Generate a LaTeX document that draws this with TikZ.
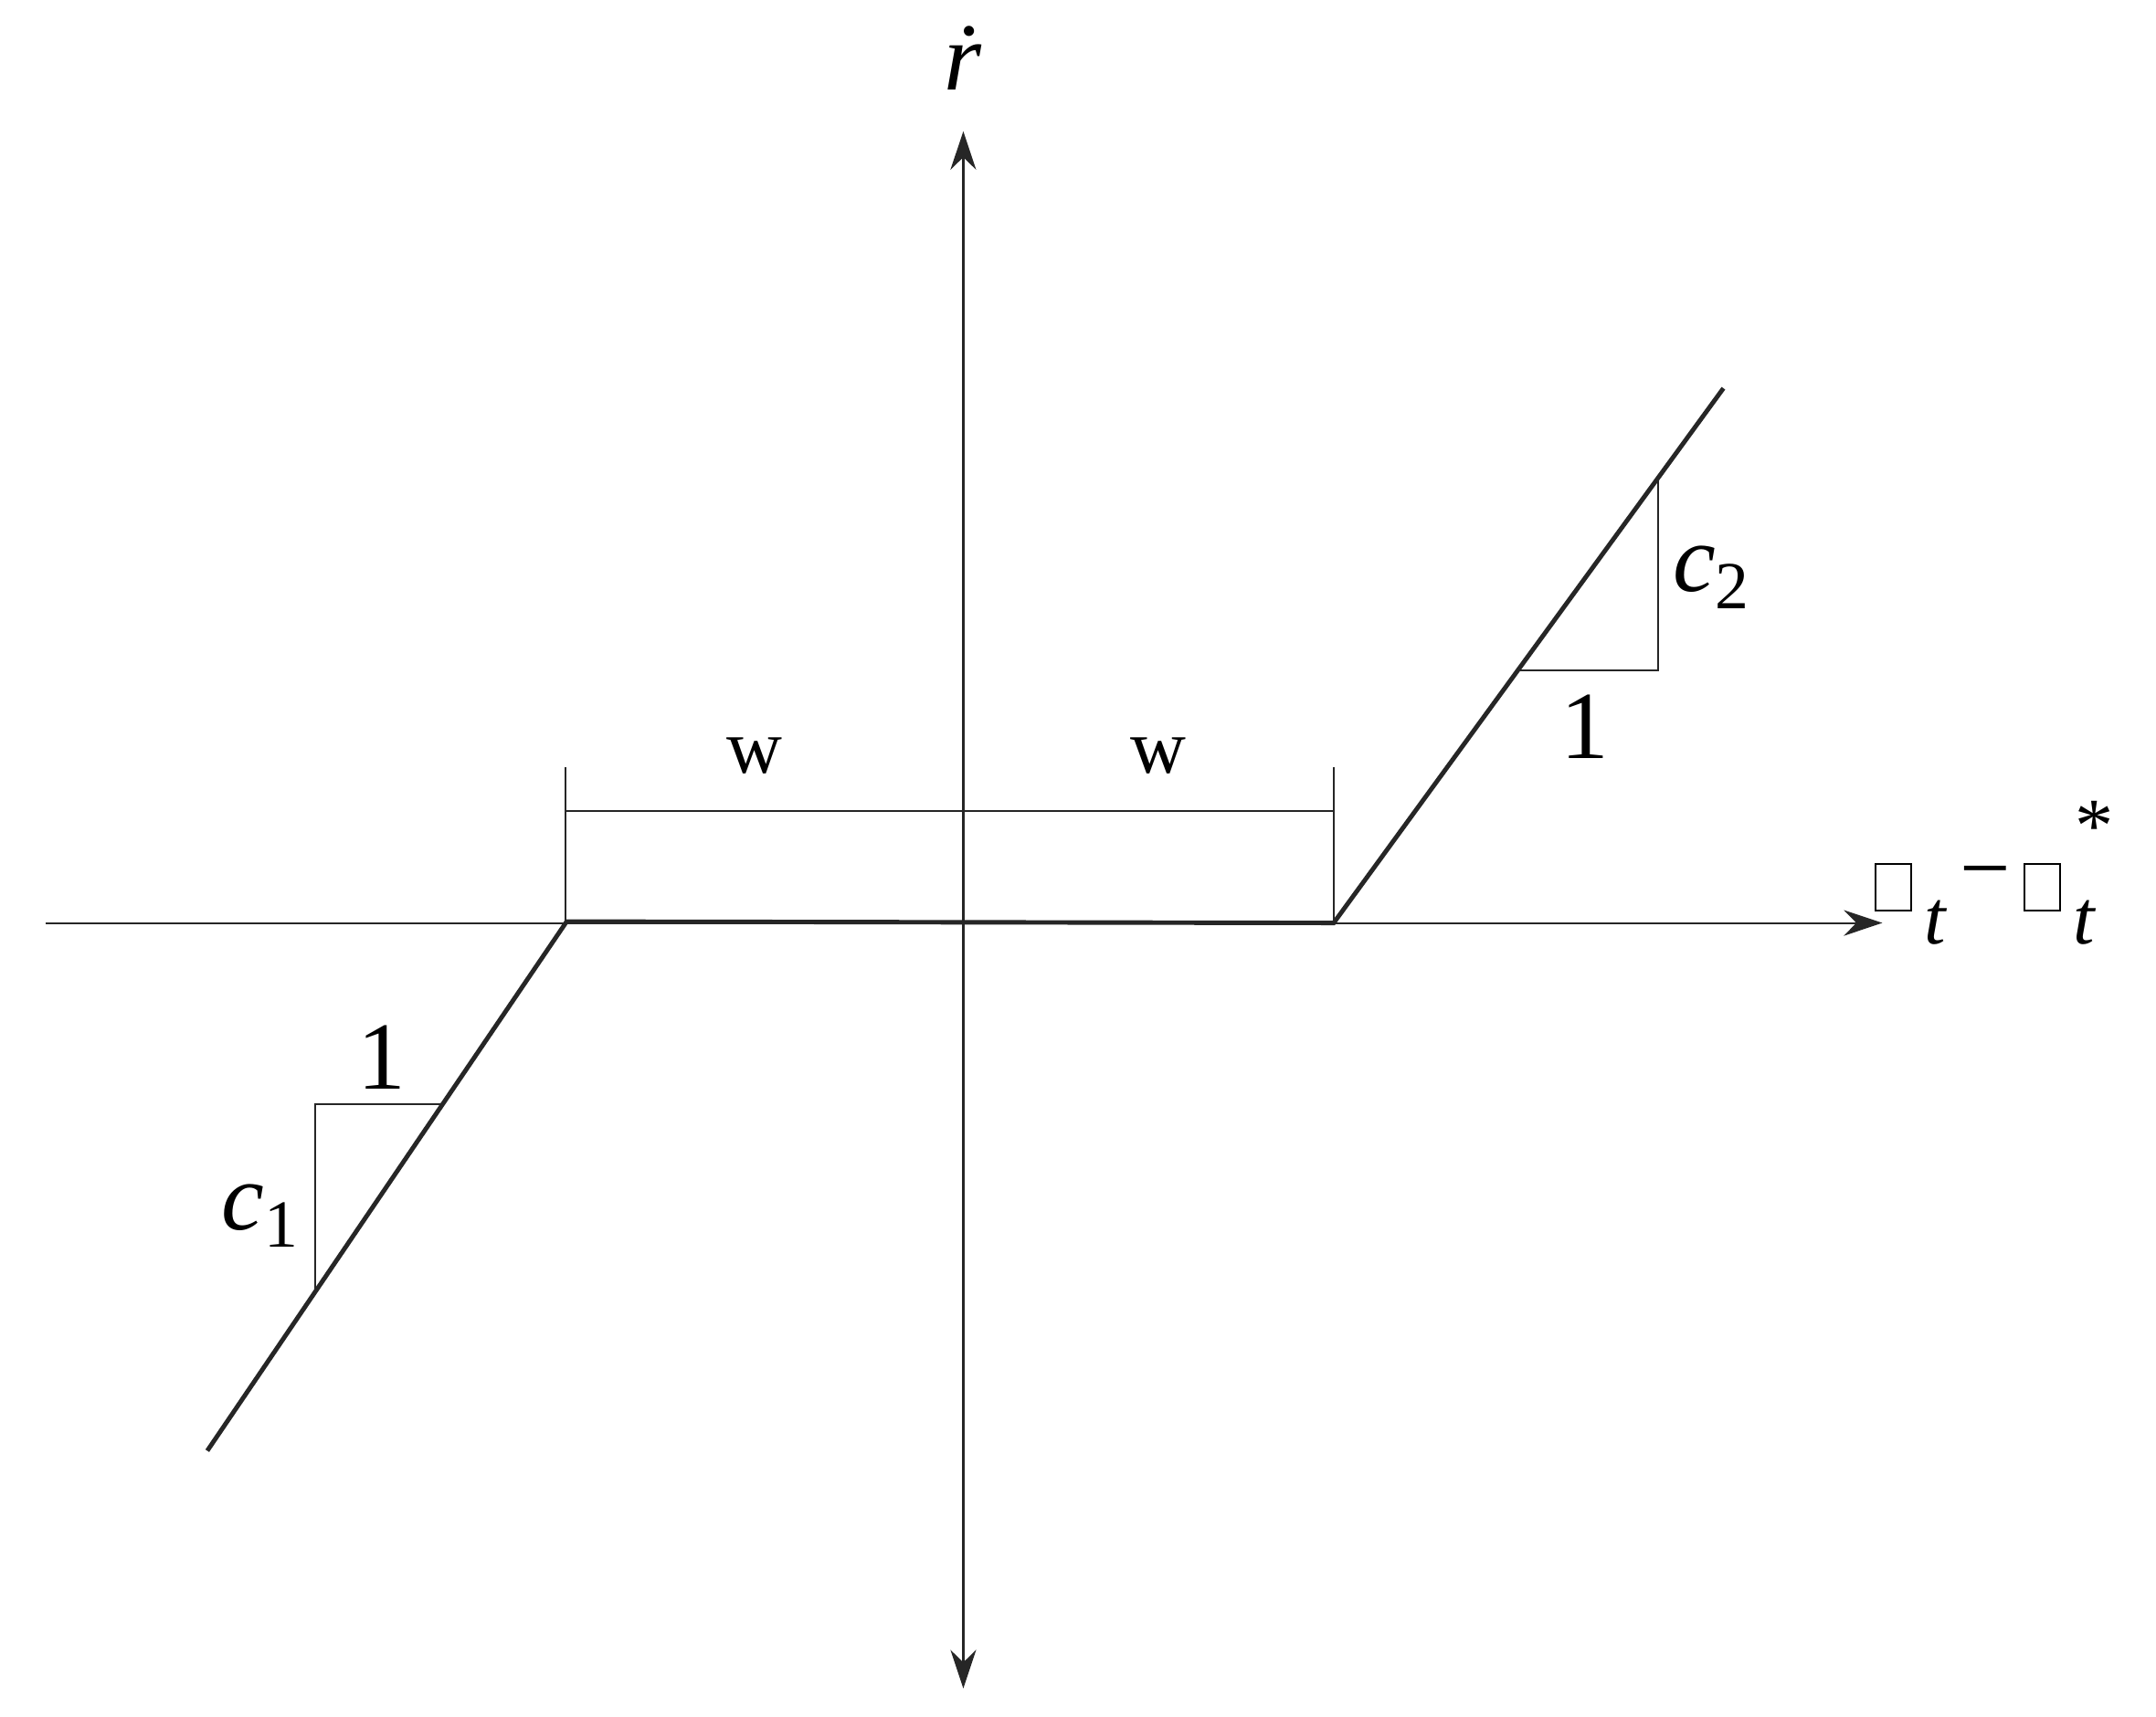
\documentclass[tikz,border=0pt]{standalone}
\usepackage{fontspec}
\setmainfont{Liberation Serif}
\usetikzlibrary{arrows.meta}
\newcommand{\sqbox}{{\setlength{\fboxsep}{0pt}\setlength{\fboxrule}{0.5pt}\fbox{\rule{0pt}{0.49cm}\hspace{0.37cm}}}}
\newcommand{\mysub}[1]{\raisebox{-0.18em}{\fontsize{21}{24}\selectfont #1}}
\begin{document}
\begin{tikzpicture}[x=0.01513cm,y=-0.01513cm,
  thinl/.style={line width=0.6pt,black!85},
  thickl/.style={line width=1.4pt,black!85},
  axarrow/.style={thinl,-{Stealth[length=12pt,width=8pt]}},
  lbl/.style={font=\fontsize{24}{28}\selectfont,inner sep=0pt}]
\useasboundingbox (0,0) rectangle (1560,1242.6);
% axes
\coordinate (xl) at (33,668); \coordinate (xr) at (1362,668);
\coordinate (yt) at (697,95); \coordinate (yb) at (697,1222);
\coordinate (o) at (697,668);
\draw[axarrow] (xl) -- (xr);
\draw[axarrow] (o) -- (yt);
\draw[axarrow] (o) -- (yb);
% curve
\coordinate (a) at (150,1050); \coordinate (b) at (410,667);
\coordinate (c) at (965,668); \coordinate (d) at (1247,281);
\draw[thickl,line join=miter] (a) -- (b) -- (c) -- (d);
% bracket
\coordinate (bl) at (409,555); \coordinate (br) at (965,555);
\draw[thinl] (bl) -- (409,668);
\draw[thinl] (br) -- (965,668);
\draw[thinl] (409,587) -- (965,587);
\node[lbl] (w1) at (546,547) {w};
\node[lbl] (w2) at (838,547) {w};
% right triangle
\coordinate (r1) at (1200,346); \coordinate (r2) at (1200,485); \coordinate (r3) at (1100,485);
\draw[thinl] (r1) -- (r2) -- (r3);
\node[lbl,font=\fontsize{30}{34}\selectfont] (c2) at (1238,418) {\textit{c}\mysub{2}};
\node[lbl,font=\fontsize{30}{34}\selectfont] (one2) at (1147,526) {1};
% left triangle
\coordinate (l1) at (320,799); \coordinate (l2) at (228,799); \coordinate (l3) at (228,937);
\draw[thinl] (l1) -- (l2) -- (l3);
\node[lbl,font=\fontsize{30}{34}\selectfont] (one1) at (276,765) {1};
\node[lbl,font=\fontsize{30}{34}\selectfont] (c1) at (188,880) {\textit{c}\mysub{1}};
% labels
\node[lbl,font=\fontsize{30}{34}\selectfont] (rdot) at (697,42) {\textit{\.r}};
\node[lbl,font=\fontsize{24}{28}\selectfont,anchor=west] (xlab) at (1356,632) {\sqbox\,\raisebox{-0.45em}{\textit{t}}\,\raisebox{0.15em}{\fontsize{28}{30}\selectfont −}\,\sqbox\,\raisebox{-0.45em}{\textit{t}}\hspace{-0.28em}\raisebox{0.75em}{*}};
\end{tikzpicture}
\end{document}
